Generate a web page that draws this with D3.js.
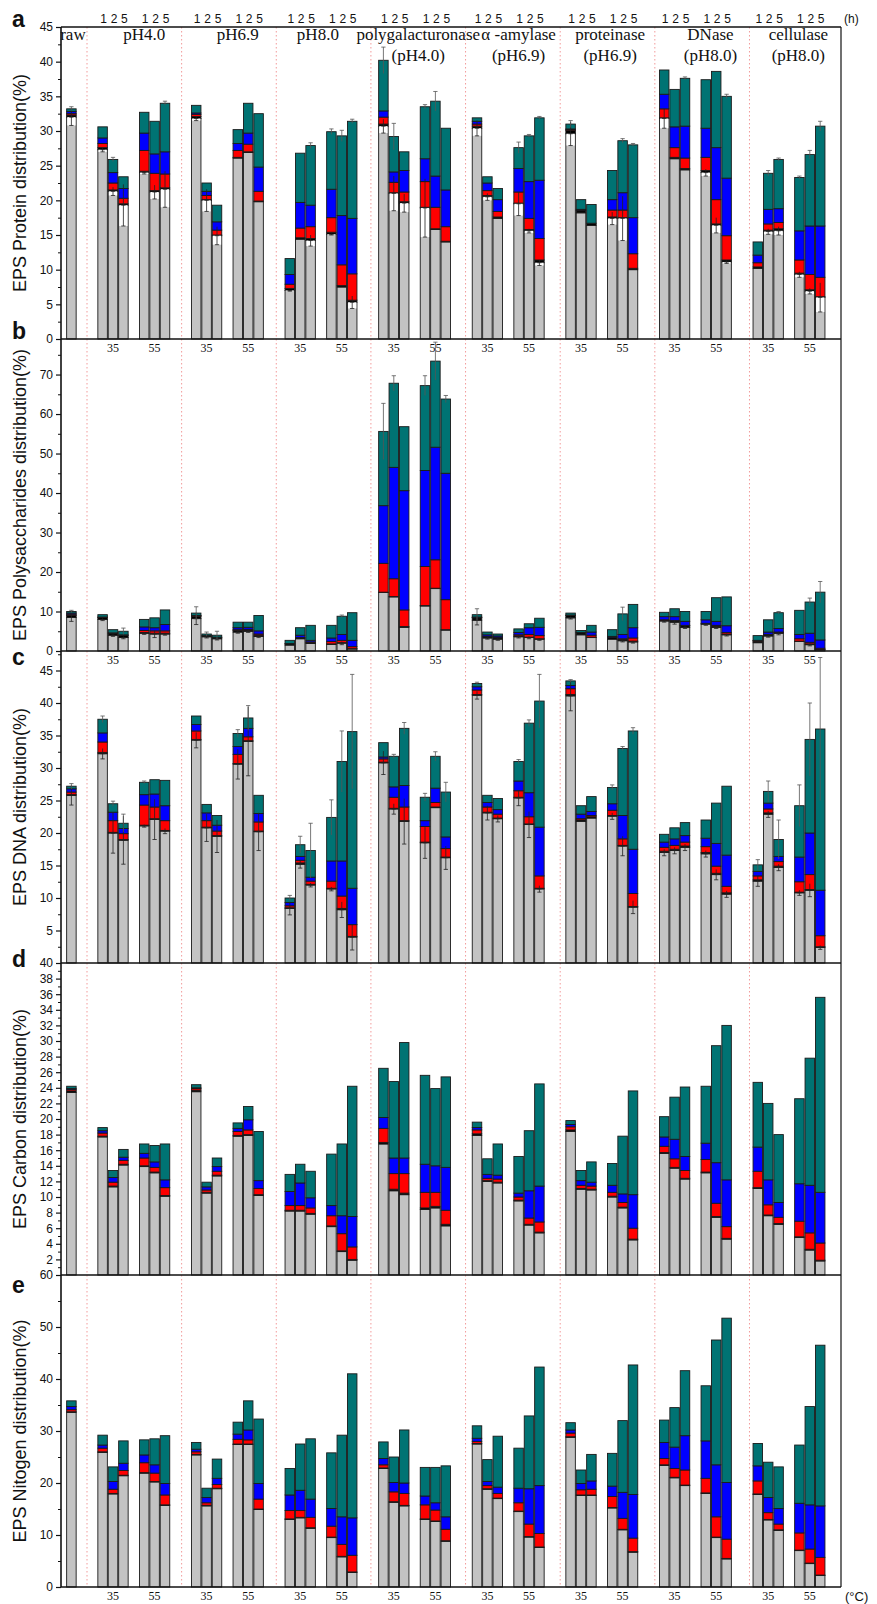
<!DOCTYPE html>
<html><head><meta charset="utf-8">
<script src="https://cdn.jsdelivr.net/npm/d3@7"></script>
<style>body{margin:0;background:#fff} svg{display:block}</style>
</head><body><svg id="chart" width="877" height="1604"></svg>
<script>
// ---------- categories ----------
const treatments = ["raw","pH4.0","pH6.9","pH8.0","polygalacturonase","α -amylase","proteinase","DNase","cellulase"];
const labelLine1 = ["raw","pH4.0","pH6.9","pH8.0","polygalacturonase","α -amylase","proteinase","DNase","cellulase"];
const labelLine2 = ["","","","","(pH4.0)","(pH6.9)","(pH6.9)","(pH8.0)","(pH8.0)"];
const temperatures = ["35","55"];
const times = ["1","2","5"];
const components = ["grey","black","red","blue","teal"];
const componentColors = {grey:"#c3c3c3", black:"#000000", red:"#ff0000", blue:"#0000ff", teal:"#007373"};

// bar order: raw, then per treatment: 35°C (1,2,5 h), 55°C (1,2,5 h)
// ---------- a: Protein ----------
const proteinGrey  = [32.0, 27.3,21.3,19.3,24.0,21.2,21.6, 31.8,20.0,14.9,26.1,26.9,19.8, 7.0,14.4,14.2,15.1,7.5,5.3, 30.7,21.0,19.6,18.9,15.8,14.0, 30.4,20.5,17.4,19.5,15.6,11.0, 29.6,18.2,16.4,17.4,17.4,10.0, 31.8,26.0,24.4,24.0,16.4,11.1, 10.2,15.5,15.6,9.3,6.9,6.0];
const proteinBlack = [0.3, 0.3,0.2,0.2,0.2,0.2,0.2, 0.3,0.1,0.1,0.1,0.1,0.1, 0.3,0.2,0.3,0.3,0.2,0.3, 0.3,0.1,0.2,0.1,0.1,0.1, 0.3,0.2,0.2,0.1,0.2,0.4, 0.5,0.3,0.3,0.2,0.1,0.2, 0.1,0.2,0.2,0.3,0.2,0.3, 0.2,0.2,0.3,0.2,0.2,0.1];
const proteinRed   = [0.2, 0.6,1.0,0.8,3.0,2.5,2.0, 0.3,0.6,0.7,1.0,1.1,1.4, 0.6,1.4,1.7,2.1,3.0,3.8, 1.0,1.5,1.4,3.7,3.1,2.1, 0.3,0.7,0.8,1.6,1.6,3.1, 0.1,0.1,0.0,1.0,1.1,2.1, 1.3,1.4,1.5,1.9,3.5,3.5, 0.6,0.9,0.9,1.9,2.2,2.8];
const proteinBlue  = [0.3, 0.8,1.5,1.4,2.5,2.8,3.2, 0.2,0.6,1.2,1.0,1.6,3.5, 1.4,3.7,3.1,4.1,7.1,8.0, 0.9,1.5,3.1,3.3,4.5,5.3, 0.4,1.1,1.7,3.4,5.3,8.4, 0.1,0.1,0.0,1.5,2.5,5.2, 2.1,3.0,4.6,4.2,7.5,8.3, 1.1,2.1,2.0,4.2,7.0,7.4];
const proteinTeal  = [0.4, 1.6,1.9,1.7,3.0,4.7,7.0, 1.1,1.2,2.4,2.0,4.3,7.7, 2.3,7.1,8.6,8.3,11.5,14.0, 7.3,5.1,2.7,7.5,10.8,8.9, 0.5,0.9,1.6,3.0,6.6,9.0, 0.7,1.4,2.7,4.2,7.5,10.5, 3.5,5.4,6.9,7.0,11.0,11.8, 1.9,5.2,7.1,7.7,10.3,14.4];
const proteinErrTop  = [0.3, 0,0.3,0,0,0,0.3, 0,0,0,0,0,0, 0,0,0.4,0.4,0.8,0.3, 1.9,1.9,0,0.3,1.4,0, 0,0,0,0.8,0.2,0.2, 0.5,0,0,0,0.3,0.2, 0,0,0.2,0,0,0.3, 0,0.4,0.2,0.2,0.6,0.7];
const proteinErrGrey = [1.2, 0.3,0.6,3.0,0.2,1.0,2.6, 0.3,1.6,1.3,0,0,0, 0.1,0,0.8,0.1,0,0.9, 1.0,2.5,1.3,4.2,0,0, 1.1,0.5,0,1.7,0.3,0.4, 1.7,0,0,0.9,3.2,0, 1.4,0,0,0.5,1.1,0.2, 0,0.4,0.6,0.4,0.4,2.1];

// ---------- b: Polysaccharides ----------
const polyGrey  = [8.5, 8.0,4.0,3.4,4.5,4.3,4.3, 8.2,3.6,3.1,4.8,5.0,3.7, 1.5,3.1,1.9,1.7,2.0,0.5, 14.8,13.7,6.0,11.4,15.8,5.3, 7.8,3.3,3.0,3.6,3.4,3.0, 8.4,4.1,3.4,3.0,2.6,2.3, 7.6,7.3,6.0,6.8,6.0,4.1, 2.1,3.8,4.5,2.4,1.6,0.3];
const polyBlack = [0.5, 0.5,0.4,0.5,0.2,0.2,0.2, 0.6,0.3,0.3,0.4,0.3,0.3, 0.3,0.2,0.3,0.1,0.1,0.1, 0.1,0.1,0.2,0.1,0.1,0.1, 0.6,0.3,0.3,0.2,0.1,0.1, 0.6,0.5,0.1,0.4,0.3,0.2, 0.2,0.3,0.4,0.2,0.3,0.2, 0.4,0.3,0.2,0.1,0.2,0.1];
const polyRed   = [0.3, 0.1,0,0,0.5,0.6,0.6, 0.1,0,0,0.2,0.2,0.3, 0,0.1,0.1,0.6,0.6,0.5, 7.3,4.5,4.2,9.9,7.2,7.6, 0.1,0.1,0.1,0.3,0.7,0.8, 0.1,0,0.5,0.1,0.2,0.8, 0.1,0.1,0.1,0,0.2,0.4, 0.1,0.1,0.1,0.6,0.4,0.3];
const polyBlue  = [0.3, 0,0.2,0.2,0.9,0.8,1.6, 0.1,0,0.1,0.5,0.5,0.8, 0.1,0.6,0.4,0.9,1.5,1.6, 14.6,28.2,30.2,24.3,28.5,32.0, 0.1,0.4,0.4,0.6,1.7,2.1, 0,0.1,0.8,0.2,1.1,2.6, 0.8,1.0,1.0,0.9,1.0,1.7, 0.1,0.6,0.9,1.1,2.3,2.1];
const polyTeal  = [0.4, 0.6,0.8,0.9,1.9,2.5,3.7, 0.6,0.4,0.5,1.4,1.3,3.9, 0.8,1.9,3.8,3.2,4.6,7.0, 18.8,21.3,16.2,21.5,21.8,18.8, 0.6,0.7,0.5,0.9,1.0,2.3, 0.5,0.5,1.7,1.7,5.2,5.9, 1.1,2.0,2.5,2.1,6.0,7.3, 1.2,3.1,4.0,6.1,7.9,12.1];
const polyErrTop  = [0.3, 0,0,0.8,0,0,0, 1.6,0.5,1.0,0,0,0, 0,0,0,0,0.3,0, 7.1,1.9,0,2.5,4.8,0.9, 1.5,0,0,0,0,0, 0,0,0,0,1.7,0, 0,0,0,0,0,0, 0,0,0.3,0,1.0,2.7];
const polyErrGrey = [1.0, 0.3,0.3,0.3,0.3,0.9,0.3, 1.5,0.3,0.3,0.3,0.3,0.3, 0,0,0,0,0.4,0, 0,0,0,0,0,0, 1.2,0.3,0.3,0.3,0.3,0.3, 0.3,0,0,0,0.3,0.3, 0.3,0.5,0.3,0.3,0.3,0.3, 0,0.3,0.4,0,0.3,0];

// ---------- c: DNA ----------
const dnaGrey  = [25.8, 32.2,20.0,18.9,21.1,22.1,20.3, 34.3,20.8,19.5,30.6,34.1,20.2, 8.4,15.2,12.0,11.4,8.2,4.0, 30.8,23.7,21.8,18.5,23.9,16.2, 41.2,23.1,22.2,25.4,21.3,11.4, 41.1,21.8,22.3,22.6,18.0,8.6, 17.0,17.3,17.8,16.8,13.6,10.6, 12.6,22.9,14.7,10.8,11.2,2.4];
const dnaBlack = [0.1, 0.2,0.1,0.1,0.1,0.1,0.1, 0.1,0.1,0.1,0.1,0.1,0.1, 0.1,0.2,0.1,0.1,0.2,0.1, 0.1,0.1,0.1,0.1,0.1,0.1, 0.1,0.1,0.1,0.1,0.1,0.1, 0.2,0.2,0.2,0.1,0.1,0.1, 0.2,0.2,0.2,0.2,0.2,0.2, 0.2,0.2,0.2,0.1,0.1,0.1];
const dnaRed   = [0.4, 1.6,1.8,0.9,3.1,1.8,1.5, 1.3,1.0,0.7,1.4,0.6,1.4, 0.3,0.4,0.5,1.1,1.9,1.8, 0.5,1.7,2.1,2.4,0.7,1.3, 0.7,0.8,0.6,1.0,1.1,1.9, 0.9,0.2,0.2,0.8,1.0,2.0, 0.6,0.6,0.6,0.9,1.1,1.0, 0.6,0.6,0.7,1.6,2.3,1.7];
const dnaBlue  = [0.5, 1.4,1.3,0.8,1.6,2.0,2.3, 1.0,1.2,0.9,1.2,1.3,1.3, 0.5,0.6,0.6,3.1,5.4,5.6, 0.3,1.6,3.3,0.9,2.2,1.8, 0.5,0.7,0.7,1.5,3.7,7.5, 0.5,0.7,0.6,1.0,3.6,6.8, 0.8,1.0,1.0,1.3,3.5,4.8, 0.7,0.9,0.8,3.8,6.4,7.0];
const dnaTeal  = [0.4, 2.1,1.3,0.8,1.9,2.2,3.9, 1.3,1.3,1.5,2.0,1.6,2.8, 0.7,1.8,4.1,6.7,15.3,24.1, 2.2,4.7,8.8,3.6,4.9,6.9, 0.5,1.1,1.7,3.0,10.7,19.4, 0.7,1.3,2.3,2.5,10.3,18.2, 1.2,1.7,2.0,2.8,6.2,10.6, 1.0,1.8,2.6,7.9,14.4,24.8];
const dnaErrTop  = [0.4, 0.5,0.4,1.4,0.2,0,0, 0,0,0,0.6,1.9,0, 0.4,1.3,4.2,2.7,4.7,8.8, 0,0.3,0.9,0.6,0.7,1.5, 0.2,0,0,0.3,0.5,4.1, 0.2,0,0,0.4,0.3,0.5, 0,0,0,0,0,0, 0.8,1.6,3.0,3.2,5.6,11.0];
const dnaErrGrey = [1.5, 0.8,3.1,3.7,0.2,3.1,0.4, 1.2,2.1,2.5,2.3,5.3,2.9, 1.0,0.6,0.3,0.3,1.2,2.0, 1.8,0.8,3.5,2.4,0,1.8, 0.6,1.1,0.5,1.2,2.0,0.5, 2.3,0,0,0.5,1.5,1.0, 0.5,0.5,0.5,0.5,0.8,0.5, 0.8,0.5,0.5,0.4,1.0,0.3];

// ---------- d: Carbon ----------
const carbonGrey  = [23.4, 17.7,11.3,14.1,13.9,13.1,10.1, 23.5,10.5,12.7,17.8,17.9,10.2, 8.2,8.2,7.8,6.2,3.0,1.9, 16.8,10.8,10.3,8.4,8.6,6.3, 17.9,12.0,11.8,9.5,6.4,5.4, 18.4,11.0,10.9,10.0,8.6,4.5, 15.6,13.7,12.3,13.1,7.4,4.6, 11.1,7.6,6.5,4.8,3.2,1.8];
const carbonBlack = [0.2, 0.1,0.1,0.1,0.1,0.1,0.1, 0.2,0.1,0.1,0.1,0.1,0.1, 0.1,0.1,0.1,0.1,0.1,0.1, 0.2,0.2,0.2,0.2,0.2,0.2, 0.2,0.1,0.1,0.1,0.1,0.1, 0.2,0.1,0.1,0.1,0.1,0.1, 0.1,0.1,0.1,0.1,0.1,0.1, 0.1,0.1,0.1,0.1,0.1,0.1];
const carbonRed   = [0.2, 0.4,0.5,0.5,1.0,0.6,1.0, 0.2,0.3,0.5,0.5,0.6,0.8, 0.6,0.6,0.7,1.3,2.2,1.6, 1.8,2.0,2.5,2.0,1.8,1.8, 0.5,0.3,0.4,0.4,0.8,1.3, 0.4,0.4,0.4,0.5,0.6,1.4, 0.8,1.1,1.0,1.6,1.7,1.5, 2.1,1.3,0.8,2.0,2.1,2.2];
const carbonBlue  = [0.1, 0.3,0.6,0.4,0.6,0.7,1.0, 0.1,0.4,0.6,0.4,1.3,1.0, 1.8,2.9,1.3,1.3,2.3,3.9, 1.4,2.0,2.0,3.6,3.4,5.5, 0.3,0.5,0.5,0.5,3.5,4.6, 0.3,0.6,0.5,0.9,1.1,4.3, 1.2,2.5,1.8,2.1,5.2,6.0, 3.1,3.2,1.9,4.8,6.1,6.5];
const carbonTeal  = [0.3, 0.4,0.9,1.0,1.2,2.1,4.6, 0.4,0.6,1.1,0.7,1.7,6.3, 2.2,2.4,3.4,6.6,9.2,16.7, 6.3,9.8,14.8,11.4,9.9,11.6, 0.7,2.0,4.0,4.7,7.7,13.1, 0.5,1.3,2.6,2.8,7.4,13.3, 2.6,5.4,8.9,7.3,15.0,19.8, 8.3,9.8,8.7,10.9,16.3,25.0];

// ---------- e: Nitrogen ----------
const nitrogenGrey  = [33.6, 25.9,17.9,21.4,21.9,20.2,15.7, 25.4,15.6,18.9,27.4,27.4,14.9, 13.0,13.3,11.3,9.5,5.8,2.8, 22.8,16.3,15.6,13.0,12.6,8.8, 27.5,18.8,17.0,14.5,9.6,7.6, 28.8,17.6,17.6,15.2,11.0,6.7, 23.4,21.0,19.5,18.0,9.5,5.4, 17.8,12.9,10.9,7.0,4.5,2.2];
const nitrogenBlack = [0.1, 0.1,0.1,0.1,0.1,0.1,0.1, 0.1,0.1,0.1,0.1,0.1,0.1, 0.1,0.1,0.1,0.1,0.1,0.1, 0.1,0.1,0.1,0.1,0.1,0.1, 0.1,0.1,0.1,0.1,0.1,0.1, 0.1,0.1,0.1,0.1,0.1,0.1, 0.1,0.1,0.1,0.1,0.1,0.1, 0.1,0.1,0.1,0.1,0.1,0.1];
const nitrogenRed   = [0.4, 0.7,0.8,0.9,1.9,1.6,1.9, 0.5,0.5,0.7,0.9,0.8,1.9, 1.6,1.3,2.0,2.1,2.3,3.2, 0.6,1.9,2.3,2.7,2.1,2.2, 0.4,0.6,0.9,1.6,2.4,2.6, 0.7,1.0,1.1,2.1,2.1,2.6, 1.2,1.7,2.9,2.8,3.9,3.7, 2.5,1.3,1.1,3.3,2.7,3.4];
const nitrogenBlue  = [0.6, 0.6,1.5,1.4,1.5,1.6,2.2, 0.5,1.0,1.2,1.0,1.9,3.0, 3.0,3.9,3.5,3.4,5.3,7.2, 1.2,1.8,2.0,1.7,1.4,2.4, 0.6,0.8,1.2,2.8,6.8,9.2, 0.6,1.2,1.6,2.0,5.0,8.4, 3.1,4.1,6.6,7.2,10.0,10.9, 2.9,2.9,3.0,5.7,8.5,9.9];
const nitrogenTeal  = [1.1, 1.9,2.8,4.3,2.9,5.0,9.2, 1.3,1.8,3.7,2.3,5.6,12.4, 5.1,8.9,11.6,10.7,15.7,27.7, 3.2,4.9,10.2,5.5,6.8,9.8, 2.4,4.2,9.8,7.7,14.0,22.8, 1.4,2.6,5.1,6.3,13.8,24.9, 4.3,7.6,12.5,10.6,24.0,31.6, 4.3,6.8,8.0,11.2,18.9,30.9];

// ---------- panel layout ----------
const plotLeft = 61, plotRight = 841;
const panelTop = 27, panelH = 312;
const panels = [
  {letter:"a", title:"EPS Protein distribution(%)", max:45, major:d3.range(0,46,5), minor:d3.range(2.5,45,5), letterDy:0, tempLabels:true,
   data:{grey:proteinGrey, black:proteinBlack, red:proteinRed, blue:proteinBlue, teal:proteinTeal}, errTop:proteinErrTop, errGrey:proteinErrGrey, whiteErr:true},
  {letter:"b", title:"EPS Polysaccharides distribution(%)", max:79, major:d3.range(0,71,10), minor:d3.range(5,79,10), letterDy:0, tempLabels:true,
   data:{grey:polyGrey, black:polyBlack, red:polyRed, blue:polyBlue, teal:polyTeal}, errTop:polyErrTop, errGrey:polyErrGrey},
  {letter:"c", title:"EPS DNA distribution(%)", max:48, major:d3.range(5,46,5), minor:d3.range(2.5,48,5), letterDy:14, tempLabels:false,
   data:{grey:dnaGrey, black:dnaBlack, red:dnaRed, blue:dnaBlue, teal:dnaTeal}, errTop:dnaErrTop, errGrey:dnaErrGrey},
  {letter:"d", title:"EPS Carbon distribution(%)", max:40, major:d3.range(2,41,2), minor:d3.range(1,40,2), letterDy:4, tempLabels:false,
   data:{grey:carbonGrey, black:carbonBlack, red:carbonRed, blue:carbonBlue, teal:carbonTeal}},
  {letter:"e", title:"EPS Nitogen distribution(%)", max:60, major:d3.range(0,61,10), minor:d3.range(5,60,10), letterDy:18, tempLabels:true,
   data:{grey:nitrogenGrey, black:nitrogenBlack, red:nitrogenRed, blue:nitrogenBlue, teal:nitrogenTeal}}
];
// horizontal nudges (in bar slots) of the treatment captions, as typeset in the original
const captionNudge = [0.15, 1.0, 1.0, -0.3, 0.35, 1.0, 0.8, 1.45, 0.9];

// slot positions: raw at 0, group g centred at 6+9g; bars at centre-3..-1 (35°C) and +1..+3 (55°C)
const bars = [{t:0, temp:null, time:null, slot:0}];
treatments.slice(1).forEach((tr, g) => {
  temperatures.forEach((tp, ti) => {
    times.forEach((tm, hi) => {
      bars.push({t:g+1, temp:tp, time:tm, slot: 6 + 9*g + (ti === 0 ? hi - 3 : hi + 1)});
    });
  });
});
const groupCenter = g => 6 + 9*(g-1);

const x = d3.scaleLinear().domain([-1, 74]).range([plotLeft, plotRight]);
const bw = x(1) - x(0) - 0.9;

const svg = d3.select("#chart");
const sans = "'Liberation Sans', Arial, sans-serif";
const serif = "'Liberation Serif', 'Times New Roman', serif";

const plotBottom = panelTop + panelH * panels.length;

// separators (dotted, pink)
const sepG = svg.append("g");
treatments.slice(1).forEach((tr, i) => {
  const xs = x(1.5 + 9.1 * i);
  sepG.append("line").attr("x1", xs).attr("x2", xs).attr("y1", panelTop).attr("y2", plotBottom)
    .attr("stroke", "#f29a9a").attr("stroke-width", 1).attr("stroke-dasharray", "1.5,2.5");
});

panels.forEach((p, pi) => {
  const top = panelTop + pi * panelH, bottom = top + panelH;
  const y = d3.scaleLinear().domain([0, p.max]).range([bottom, top]);
  const g = svg.append("g");

  const rows = bars.map((b, i) => {
    const r = {i};
    components.forEach(c => r[c] = p.data[c][i]);
    return r;
  });
  const series = d3.stack().keys(components)(rows);

  series.forEach(s => {
    g.append("g").selectAll("rect").data(s).join("rect")
      .attr("x", d => x(bars[d.data.i].slot) - bw/2)
      .attr("width", bw)
      .attr("y", d => y(d[1]))
      .attr("height", d => Math.max(0, y(d[0]) - y(d[1])))
      .attr("fill", componentColors[s.key])
      .attr("stroke", "#1a1a1a").attr("stroke-width", 0.9);
  });

  // error bars
  const eg = g.append("g").attr("stroke", "#222").attr("stroke-width", 0.8);
  const capW = bw * 0.45;
  if (p.errGrey) {
    rows.forEach((r, i) => {
      const e = p.errGrey[i];
      if (!e) return;
      const cx = x(bars[i].slot);
      const yt = y(r.grey), yb = y(r.grey - e), yu = y(r.grey + e);
      if (p.whiteErr) {
        eg.append("rect").attr("x", cx - bw/2 + 0.6).attr("width", bw - 1.2)
          .attr("y", yt).attr("height", yb - yt).attr("fill", "#fff").attr("stroke", "none");
      }
      eg.append("line").attr("x1", cx).attr("x2", cx).attr("y1", yu).attr("y2", yb);
      eg.append("line").attr("x1", cx - capW/2).attr("x2", cx + capW/2).attr("y1", yb).attr("y2", yb);
      eg.append("line").attr("x1", cx - capW/2).attr("x2", cx + capW/2).attr("y1", yt).attr("y2", yt);
    });
  }
  if (p.errTop) {
    rows.forEach((r, i) => {
      const e = p.errTop[i];
      if (!e) return;
      const cx = x(bars[i].slot);
      const tot = components.reduce((a, c) => a + r[c], 0);
      const yu = y(tot + e);
      eg.append("line").attr("x1", cx).attr("x2", cx).attr("y1", y(tot - e)).attr("y2", yu).attr("stroke", "#555");
      eg.append("line").attr("x1", cx - capW/2).attr("x2", cx + capW/2).attr("y1", yu).attr("y2", yu).attr("stroke", "#555");
    });
  }

  // y axis ticks
  const ax = d3.axisLeft(y).tickValues(p.major).tickSize(5).tickPadding(3).tickFormat(d3.format("d"));
  const axG = g.append("g").attr("transform", `translate(${plotLeft},0)`).call(ax);
  axG.select(".domain").remove();
  axG.selectAll("text").attr("font-family", sans).attr("font-size", 12).attr("fill", "#111");
  axG.selectAll("line").attr("stroke", "#111").attr("stroke-width", 1.2);
  const axm = d3.axisLeft(y).tickValues(p.minor).tickSize(3).tickFormat("");
  const amG = g.append("g").attr("transform", `translate(${plotLeft},0)`).call(axm);
  amG.select(".domain").remove();
  amG.selectAll("line").attr("stroke", "#111").attr("stroke-width", 1);

  // horizontal frame line (bottom of panel)
  g.append("line").attr("x1", plotLeft).attr("x2", plotRight).attr("y1", bottom).attr("y2", bottom)
    .attr("stroke", "#111").attr("stroke-width", 1.6);

  // y title
  g.append("text").attr("transform", `translate(26,${(top+bottom)/2}) rotate(-90)`)
    .attr("text-anchor", "middle").attr("font-family", sans).attr("font-size", 18).attr("fill", "#111")
    .text(p.title);
  // letter
  g.append("text").attr("x", 12).attr("y", top + p.letterDy).attr("font-family", sans)
    .attr("font-weight", "bold").attr("font-size", 23).attr("fill", "#111").text(p.letter);

  // temperature labels
  if (p.tempLabels) {
    treatments.slice(1).forEach((tr, gi) => {
      temperatures.forEach((tp, ti) => {
        g.append("text").attr("x", x(groupCenter(gi+1) + (ti === 0 ? -2 : 2)))
          .attr("y", bottom + 13).attr("text-anchor", "middle")
          .attr("font-family", serif).attr("font-size", 12).attr("fill", "#111").text(tp);
      });
    });
  }
});

// frame: top, left, right
svg.append("line").attr("x1", plotLeft).attr("x2", plotRight).attr("y1", panelTop).attr("y2", panelTop).attr("stroke", "#111").attr("stroke-width", 1.6);
svg.append("line").attr("x1", plotLeft).attr("x2", plotLeft).attr("y1", panelTop).attr("y2", plotBottom).attr("stroke", "#111").attr("stroke-width", 1.6);
svg.append("line").attr("x1", plotRight).attr("x2", plotRight).attr("y1", panelTop).attr("y2", plotBottom).attr("stroke", "#111").attr("stroke-width", 1.2);

// top time labels
bars.slice(1).forEach(b => {
  svg.append("text").attr("x", x(b.slot) + 1).attr("y", 23).attr("text-anchor", "middle")
    .attr("font-family", sans).attr("font-size", 12).attr("fill", "#111").text(b.time);
});
svg.append("text").attr("x", 844).attr("y", 23).attr("font-family", sans).attr("font-size", 12).attr("fill", "#111").text("(h)");
svg.append("text").attr("x", 845).attr("y", 1601).attr("font-family", sans).attr("font-size", 13).attr("fill", "#111").text("(°C)");

// treatment labels
labelLine1.forEach((t, i) => {
  const cx = i === 0 ? x(captionNudge[0]) : x(groupCenter(i) + captionNudge[i]);
  svg.append("text").attr("x", cx).attr("y", 40).attr("text-anchor", "middle")
    .attr("font-family", serif).attr("font-size", 17).attr("fill", "#111").text(t);
  if (labelLine2[i]) {
    svg.append("text").attr("x", cx).attr("y", 61).attr("text-anchor", "middle")
      .attr("font-family", serif).attr("font-size", 17).attr("fill", "#111").text(labelLine2[i]);
  }
});
</script></body></html>
